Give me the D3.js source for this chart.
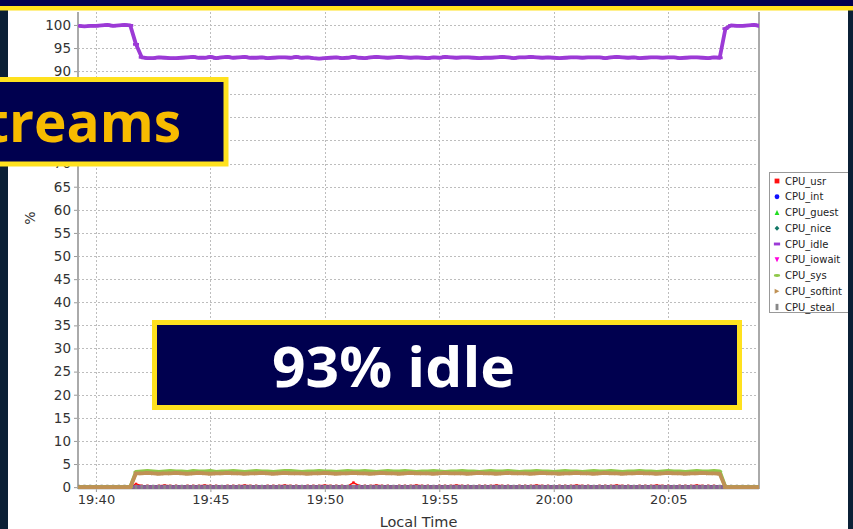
<!DOCTYPE html>
<html>
<head>
<meta charset="utf-8">
<script src="https://cdn.jsdelivr.net/npm/d3@7"></script>
<style>
  body { margin: 0; background: #fff; }
  svg { display: block; }
</style>
</head>
<body>
<div id="chart"></div>
<script>
// ---- data (one sample every 15 s) ----
const seriesNames = ["CPU_usr", "CPU_int", "CPU_guest", "CPU_nice", "CPU_idle",
                     "CPU_iowait", "CPU_sys", "CPU_softint", "CPU_steal"];
const sampleStart = "19:39:15";
const sampleStepSec = 15;
const xDomain = ["19:39:13", "20:08:58"];
const xTickLabels = ["19:40", "19:45", "19:50", "19:55", "20:00", "20:05"];
const yTicks = [0, 5, 10, 15, 20, 25, 30, 35, 40, 45, 50, 55, 60, 65, 70, 75, 80, 85, 90, 95, 100];

const cpuIdle = [
  99.8, 99.7, 99.8, 99.8, 99.9, 100.0, 99.8, 99.9, 100.0, 99.9,
  95.8,
  93.0, 92.8, 92.8, 93.0, 92.9, 92.8, 92.8, 92.9, 93.0, 93.1,
  92.9, 92.9, 93.1, 92.8, 93.0, 93.1, 92.9, 93.0, 93.1, 92.9,
  92.9, 93.0, 92.8, 92.9, 93.0, 93.0, 92.9, 93.1, 92.9, 93.0,
  92.8, 92.7, 92.8, 92.9, 93.0, 92.8, 92.9, 93.1, 92.9, 92.8,
  93.0, 93.1, 93.0, 92.9, 93.0, 93.1, 93.0, 92.9, 93.0, 92.9,
  92.8, 93.0, 92.9, 93.1, 93.0, 92.9, 93.0, 93.0, 92.9, 92.8,
  92.9, 92.9, 93.0, 93.1, 93.0, 92.8, 93.0, 93.0, 93.1, 93.0,
  92.9, 93.0, 92.9, 92.8, 92.9, 93.0, 93.0, 92.9, 93.0, 93.0,
  93.0, 92.8, 93.0, 93.1, 93.0, 92.9, 93.0, 92.8, 92.9, 93.0,
  93.0, 92.9, 93.0, 93.0, 92.8, 92.9, 93.0, 93.0, 92.9, 92.8,
  93.0, 92.9,
  99.2, 99.9, 99.8, 99.8, 99.9, 100.0, 99.8
];

const cpuSys = [
  0, 0, 0, 0, 0, 0, 0, 0, 0, 0,
  3.3,
  3.4, 3.5, 3.4, 3.3, 3.4, 3.5, 3.4, 3.4, 3.3, 3.5,
  3.4, 3.4, 3.5, 3.3, 3.4, 3.4, 3.5, 3.4, 3.3, 3.4,
  3.5, 3.4, 3.4, 3.3, 3.4, 3.5, 3.5, 3.4, 3.3, 3.4,
  3.4, 3.5, 3.4, 3.4, 3.3, 3.4, 3.5, 3.4, 3.4, 3.5,
  3.4, 3.3, 3.4, 3.5, 3.4, 3.4, 3.5, 3.4, 3.3, 3.4,
  3.4, 3.5, 3.4, 3.3, 3.4, 3.4, 3.5, 3.4, 3.4, 3.3,
  3.4, 3.5, 3.4, 3.4, 3.5, 3.4, 3.3, 3.4, 3.4, 3.5,
  3.4, 3.4, 3.3, 3.4, 3.5, 3.4, 3.4, 3.3, 3.4, 3.5,
  3.4, 3.4, 3.5, 3.4, 3.3, 3.4, 3.4, 3.5, 3.4, 3.4,
  3.3, 3.4, 3.5, 3.4, 3.4, 3.3, 3.4, 3.5, 3.4, 3.4,
  3.5, 3.4,
  0, 0, 0, 0, 0, 0, 0
];

const cpuSoftint = [
  0, 0, 0, 0, 0, 0, 0, 0, 0, 0,
  3.0,
  3.0, 3.1, 3.0, 2.9, 3.0, 3.0, 3.1, 3.0, 2.9, 3.0,
  3.1, 3.0, 2.9, 3.0, 3.0, 3.1, 3.0, 3.0, 2.9, 3.0,
  3.0, 3.1, 3.0, 2.9, 3.0, 3.1, 3.0, 3.0, 3.0, 2.9,
  3.0, 3.0, 3.1, 3.0, 2.9, 3.0, 3.0, 3.1, 3.0, 3.0,
  2.9, 3.0, 3.1, 3.0, 3.0, 2.9, 3.0, 3.1, 3.0, 3.0,
  3.0, 2.9, 3.0, 3.1, 3.0, 3.0, 3.0, 2.9, 3.0, 3.1,
  3.0, 3.0, 2.9, 3.0, 3.1, 3.0, 3.0, 3.0, 2.9, 3.0,
  3.1, 3.0, 3.0, 2.9, 3.0, 3.0, 3.1, 3.0, 3.0, 2.9,
  3.0, 3.1, 3.0, 3.0, 2.9, 3.0, 3.0, 3.1, 3.0, 3.0,
  2.9, 3.0, 3.1, 3.0, 3.0, 2.9, 3.0, 3.0, 3.1, 3.0,
  3.0, 2.9,
  0, 0, 0, 0, 0, 0, 0
];

const cpuUsr = [
  0, 0, 0, 0, 0, 0, 0, 0, 0, 0,
  0.7,
  0.3, 0.3, 0.2, 0.3, 0.4, 0.3, 0.3, 0.2, 0.3, 0.3,
  0.3, 0.4, 0.3, 0.3, 0.2, 0.3, 0.3, 0.3, 0.4, 0.3,
  0.3, 0.2, 0.3, 0.3, 0.3, 0.4, 0.3, 0.3, 0.2, 0.3,
  0.3, 0.3, 0.4, 0.3, 0.3, 0.3, 0.2, 1.0, 0.3, 0.3,
  0.3, 0.4, 0.3, 0.3, 0.2, 0.3, 0.3, 0.3, 0.4, 0.3,
  0.3, 0.2, 0.3, 0.3, 0.3, 0.4, 0.3, 0.3, 0.2, 0.3,
  0.3, 0.3, 0.4, 0.3, 0.3, 0.2, 0.3, 0.3, 0.3, 0.4,
  0.3, 0.3, 0.2, 0.3, 0.3, 0.3, 0.4, 0.3, 0.3, 0.2,
  0.3, 0.3, 0.3, 0.4, 0.3, 0.3, 0.2, 0.3, 0.3, 0.3,
  0.4, 0.3, 0.3, 0.2, 0.3, 0.3, 0.3, 0.4, 0.3, 0.3,
  0.3, 0.2,
  0, 0, 0, 0, 0, 0, 0
];

// int, guest, nice, iowait and steal all sit on zero for the whole run
const cpuZero = [
  0, 0, 0, 0, 0, 0, 0, 0, 0, 0, 0, 0, 0, 0, 0, 0, 0, 0, 0, 0,
  0, 0, 0, 0, 0, 0, 0, 0, 0, 0, 0, 0, 0, 0, 0, 0, 0, 0, 0, 0,
  0, 0, 0, 0, 0, 0, 0, 0, 0, 0, 0, 0, 0, 0, 0, 0, 0, 0, 0, 0,
  0, 0, 0, 0, 0, 0, 0, 0, 0, 0, 0, 0, 0, 0, 0, 0, 0, 0, 0, 0,
  0, 0, 0, 0, 0, 0, 0, 0, 0, 0, 0, 0, 0, 0, 0, 0, 0, 0, 0, 0,
  0, 0, 0, 0, 0, 0, 0, 0, 0, 0, 0, 0, 0, 0, 0, 0, 0, 0, 0, 0
];

const seriesValues = {
  CPU_usr: cpuUsr, CPU_int: cpuZero, CPU_guest: cpuZero, CPU_nice: cpuZero,
  CPU_idle: cpuIdle, CPU_iowait: cpuZero, CPU_sys: cpuSys,
  CPU_softint: cpuSoftint, CPU_steal: cpuZero
};

// ---- styles ----
const style = {
  CPU_usr:     { color: "#ff1010", shape: "square",   width: 1.5, marker: 1.2 },
  CPU_int:     { color: "#1010ff", shape: "circle",   width: 3.5 },
  CPU_guest:   { color: "#22dd22", shape: "triUp",    width: 3.5 },
  CPU_nice:    { color: "#117766", shape: "diamond",  width: 3.5 },
  CPU_idle:    { color: "#9c3ad6", shape: "hrect",    width: 3.8, marker: 2.3 },
  CPU_iowait:  { color: "#ff00dd", shape: "triDown",  width: 3.5, opacity: 0.5 },
  CPU_sys:     { color: "#8fc84a", shape: "ellipse",  width: 3.8, marker: 2.1 },
  CPU_softint: { color: "#bf9155", shape: "triRight", width: 3.8, marker: 2.1 },
  CPU_steal:   { color: "#888888", shape: "vrect",    width: 3.5, opacity: 0.5 }
};
// drawing order (later = on top)
const drawOrder = ["CPU_usr", "CPU_int", "CPU_guest", "CPU_nice", "CPU_iowait",
                   "CPU_steal", "CPU_sys", "CPU_softint", "CPU_idle"];

function shapePath(type, s) {
  switch (type) {
    case "square":   return `M${-s},${-s}h${2*s}v${2*s}h${-2*s}Z`;
    case "circle":   return `M${-s},0a${s},${s} 0 1,0 ${2*s},0a${s},${s} 0 1,0 ${-2*s},0Z`;
    case "triUp":    return `M0,${-s}L${s},${s}L${-s},${s}Z`;
    case "triDown":  return `M0,${s}L${s},${-s}L${-s},${-s}Z`;
    case "triRight": return `M${s},0L${-s},${-s}L${-s},${s}Z`;
    case "diamond":  return `M0,${-s}L${s},0L0,${s}L${-s},0Z`;
    case "hrect":    return `M${-s*1.3},${-s*0.6}h${2.6*s}v${1.2*s}h${-2.6*s}Z`;
    case "vrect":    return `M${-s*0.6},${-s*1.3}h${1.2*s}v${2.6*s}h${-1.2*s}Z`;
    case "ellipse":  return `M${-s*1.3},0a${s*1.3},${s*0.6} 0 1,0 ${2.6*s},0a${s*1.3},${s*0.6} 0 1,0 ${-2.6*s},0Z`;
  }
}

// ---- layout ----
const W = 853, H = 529;
const plot = { left: 78, right: 759, top: 12, bottom: 489 };

const parseT = d3.timeParse("%H:%M:%S");
const parseHM = d3.timeParse("%H:%M");
const t0 = parseT(sampleStart);
const times = cpuIdle.map((_, i) => new Date(t0.getTime() + i * sampleStepSec * 1000));

const x = d3.scaleTime()
  .domain(xDomain.map(parseT))
  .range([plot.left, plot.right]);
const y = d3.scaleLinear()
  .domain([-0.4, 102.8])
  .range([plot.bottom, plot.top]);

const svg = d3.select("#chart").append("svg")
  .attr("width", W).attr("height", H)
  .style("font-family", "'DejaVu Sans', sans-serif");

svg.append("rect").attr("width", W).attr("height", H).attr("fill", "#fff");

// grid
const xTickDates = xTickLabels.map(parseHM);
const grid = svg.append("g").attr("stroke", "#bdbdbd").attr("stroke-dasharray", "2,2").attr("stroke-width", 1);
grid.selectAll("line.gy").data(yTicks).join("line")
  .attr("x1", plot.left).attr("x2", plot.right)
  .attr("y1", d => Math.round(y(d)) + 0.5).attr("y2", d => Math.round(y(d)) + 0.5);
grid.selectAll("line.gx").data(xTickDates).join("line")
  .attr("x1", d => Math.round(x(d)) + 0.5).attr("x2", d => Math.round(x(d)) + 0.5)
  .attr("y1", plot.top).attr("y2", plot.bottom);

// axes
const yAxis = d3.axisLeft(y).tickValues(yTicks).tickSize(4).tickPadding(3);
const gy = svg.append("g").attr("transform", `translate(${plot.left},0)`).call(yAxis);
gy.select(".domain").remove();
gy.selectAll(".tick line").attr("stroke", "#999");
gy.selectAll(".tick text").attr("fill", "#333").style("font-size", "13.5px")
  .style("font-family", "'DejaVu Sans', sans-serif");

const xAxis = d3.axisBottom(x).tickValues(xTickDates).tickFormat(d3.timeFormat("%H:%M")).tickSize(3).tickPadding(3);
const gx = svg.append("g").attr("transform", `translate(0,${plot.bottom})`).call(xAxis);
gx.select(".domain").remove();
gx.selectAll(".tick line").attr("stroke", "#999");
gx.selectAll(".tick text").attr("fill", "#333").style("font-size", "13px")
  .style("font-family", "'DejaVu Sans', sans-serif");

// plot frame lines
svg.append("line").attr("x1", plot.left).attr("x2", plot.left).attr("y1", plot.top).attr("y2", plot.bottom)
  .attr("stroke", "#aaa").attr("stroke-width", 2);
svg.append("line").attr("x1", plot.right).attr("x2", plot.right).attr("y1", plot.top).attr("y2", plot.bottom)
  .attr("stroke", "#aaa").attr("stroke-width", 2);
svg.append("line").attr("x1", plot.left).attr("x2", plot.right).attr("y1", plot.bottom).attr("y2", plot.bottom)
  .attr("stroke", "#bbb").attr("stroke-width", 1);

// axis titles
svg.append("text").attr("x", (plot.left + plot.right) / 2).attr("y", 527)
  .attr("text-anchor", "middle").attr("fill", "#333").style("font-size", "14.5px").text("Local Time");
svg.append("text").attr("transform", "translate(35,218) rotate(-90)")
  .attr("text-anchor", "middle").attr("fill", "#333").style("font-size", "14px").text("%");

// series
svg.append("clipPath").attr("id", "clip").append("rect")
  .attr("x", plot.left).attr("y", plot.top)
  .attr("width", plot.right - plot.left).attr("height", plot.bottom - plot.top);
const gSeries = svg.append("g").attr("clip-path", "url(#clip)");
const line = d3.line().x(d => x(d.t)).y(d => y(d.v));

drawOrder.forEach(name => {
  const st = style[name];
  const pts = seriesValues[name].map((v, i) => ({ t: times[i], v }));
  const g = gSeries.append("g").attr("opacity", st.opacity || 1);
  g.append("path").datum(pts).attr("d", line)
    .attr("fill", "none").attr("stroke", st.color).attr("stroke-width", st.width)
    .attr("stroke-linejoin", "round");
  gSeries.append("g").selectAll("path").data(pts).join("path")
    .attr("transform", d => `translate(${x(d.t)},${y(d.v)})`)
    .attr("d", shapePath(st.shape, st.marker || 1.9))
    .attr("fill", st.color);
});

// legend
const legend = svg.append("g");
legend.append("rect").attr("x", 769.5).attr("y", 172.5).attr("width", 82).attr("height", 140)
  .attr("fill", "#fff").attr("stroke", "#999");
seriesNames.forEach((name, i) => {
  const cy = 181 + i * 15.75;
  legend.append("path").attr("transform", `translate(777,${cy})`)
    .attr("d", shapePath(style[name].shape, 2.4)).attr("fill", style[name].color);
  legend.append("text").attr("x", 785).attr("y", cy).attr("dy", "0.35em")
    .attr("fill", "#222").style("font-size", "10px").text(name);
});

// page edges (under the slide boxes)
const navy = "#00004f", gold = "#ffe11e";
svg.append("rect").attr("x", 0).attr("y", 0).attr("width", 8).attr("height", H).attr("fill", "#0b2036");
svg.append("rect").attr("x", 848).attr("y", 0).attr("width", 5).attr("height", H).attr("fill", "#0b2036");

// slide overlays
svg.append("rect").attr("x", -10).attr("y", 79.5).attr("width", 236).attr("height", 84.5)
  .attr("fill", navy).attr("stroke", gold).attr("stroke-width", 5);
svg.append("text").attr("x", 181).attr("y", 142).attr("text-anchor", "end")
  .attr("fill", "#f7bb00").style("font-family", "'Open Sans', sans-serif")
  .style("font-weight", "bold").style("font-size", "55px").text("treams");

svg.append("rect").attr("x", 154.5).attr("y", 322.5).attr("width", 585).attr("height", 85)
  .attr("fill", navy).attr("stroke", gold).attr("stroke-width", 5);
svg.append("text").attr("x", 272).attr("y", 387)
  .attr("textLength", 243).attr("lengthAdjust", "spacingAndGlyphs")
  .attr("fill", "#fff").style("font-family", "'Open Sans', sans-serif")
  .style("font-weight", "bold").style("font-size", "56px").text("93% idle");

// title band
svg.append("rect").attr("x", 0).attr("y", 0).attr("width", W).attr("height", 6).attr("fill", navy);
svg.append("rect").attr("x", 0).attr("y", 6).attr("width", W).attr("height", 4.5).attr("fill", gold);
</script>
</body>
</html>
